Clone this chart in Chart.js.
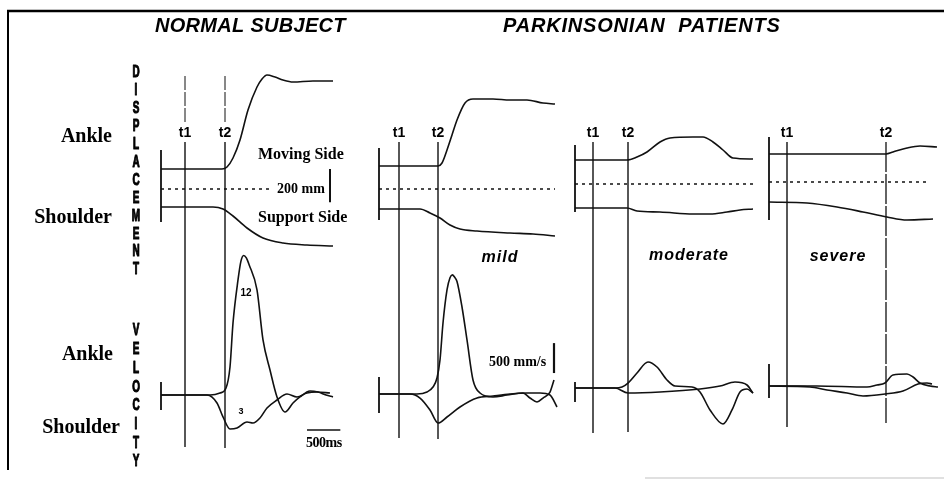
<!DOCTYPE html>
<html><head><meta charset="utf-8">
<script src="https://cdn.jsdelivr.net/npm/chart.js@4/dist/chart.umd.min.js"></script>
<style>html,body{margin:0;padding:0;background:#fff;}canvas{display:block;}</style>
</head><body>
<canvas id="c" width="944" height="479"></canvas>
<script>
// ---------- DATA (time in ms from trace start, displacement in mm, velocity in mm/s) ----------
const panels = ["normal", "mild", "moderate", "severe"];
const severityLabels = ["", "mild", "moderate", "severe"];
const markerT1 = [360, 300, 270, 270];
const markerT2 = [960, 885, 795, 1755];

// Normal subject
const nAnkDispT = [0,915,990,1080,1185,1305,1440,1515,1590,1710,1830,1980,2280,2580];
const nAnkDisp  = [0,0,12,66,174,354,492,540,564,552,534,522,528,528];
const nShoDispT = [0,780,930,1080,1290,1530,1830,2190,2580];
const nShoDisp  = [0,0,-12,-54,-126,-186,-216,-228,-234];
const nAnkVelT  = [0,735,885,975,1035,1080,1155,1200,1240,1280,1320,1440,1530,1635,1740,1860,1980,2085,2235,2355,2475,2580];
const nAnkVel   = [0,0,33,117,468,1202,1921,2240,2330,2290,2180,1754,919,418,-33,-284,-134,-33,67,50,0,-33];
const nShoVelT  = [0,690,840,930,1035,1140,1290,1380,1485,1590,1740,1890,2040,2190,2340,2535];
const nShoVel   = [0,0,-134,-367,-568,-551,-451,-468,-384,-217,-84,17,-33,33,50,33];

// Mild
const mAnkDispT = [0,885,945,1020,1095,1170,1290,1410,1710,1965,2220,2460,2640];
const mAnkDisp  = [0,0,18,96,186,276,378,402,402,396,396,378,372];
const mShoDispT = [0,615,765,915,1065,1215,1470,1965,2310,2640];
const mShoDisp  = [0,0,-24,-54,-96,-120,-132,-144,-150,-162];
const mAnkVelT  = [0,570,720,810,870,915,960,1020,1065,1100,1135,1170,1245,1320,1410,1515,1710,1920,2160,2265,2370,2460,2565,2625];
const mAnkVel   = [0,0,33,117,267,568,1186,1737,1940,1990,1950,1880,1453,902,234,17,-50,-17,17,-67,-134,-67,33,234];
const mShoVelT  = [0,465,615,765,885,1020,1215,1470,1710,1965,2220,2415,2565,2670];
const mShoVel   = [0,0,-67,-267,-484,-384,-217,-67,-33,0,17,17,-17,-217];

// Moderate
const oAnkDispT = [0,780,930,1080,1275,1425,1770,1920,2070,2220,2370,2670];
const oAnkDisp  = [0,0,18,48,108,132,138,138,108,60,12,6];
const oShoDispT = [0,780,930,1275,1770,2025,2280,2475,2670];
const oShoDisp  = [0,0,-18,-24,-36,-36,-24,-12,-6];
const oAnkVelT  = [0,600,705,795,930,1095,1230,1380,1500,1755,1875,2025,2220,2355,2475,2580,2670];
const oAnkVel   = [0,0,17,83,251,434,351,134,33,17,-67,-367,-601,-367,-67,-17,-84];
const oShoVelT  = [0,600,795,1275,1875,2175,2400,2580,2670];
const oShoVel   = [0,0,-84,-67,-17,33,100,50,-84];

// Severe
const sAnkDispT = [0,720,1215,1755,1860,2070,2265,2520];
const sAnkDisp  = [0,0,0,0,12,36,48,42];
const sShoDispT = [0,570,1020,1410,1770,2070,2460];
const sShoDisp  = [0,-6,-30,-60,-90,-108,-102];
const sAnkVelT  = [0,720,1470,1620,1740,1860,2070,2160,2265,2415,2535];
const sAnkVel   = [0,0,-17,17,50,184,200,150,50,0,-17];
const sShoVelT  = [0,615,870,1170,1410,1740,2010,2235,2370,2445];
const sShoVel   = [0,-17,-67,-117,-167,-134,-84,33,50,33];

const scaleBarDispMM = 200;   // displacement calibration
const scaleBarVelMMS = 500;   // velocity calibration
const scaleBarTimeMS = 500;   // time calibration

// ---------- LAYOUT (figure geometry, not data) ----------
const MS_PER_PX = 15, MM_PER_PX = 6, MMS_PER_PX = 16.7;
const W = 944, H = 479;
const layout = [
  {x0:161, ankY:169, shoY:207, midY:189, velY:395, dispBar:[150,222], velBar:[382,410], dotEnd:1680, tBot:[447,448], upper:true},
  {x0:379, ankY:166, shoY:209, midY:189, velY:394, dispBar:[148,220], velBar:[377,413], dotEnd:2640, tBot:[438,439]},
  {x0:575, ankY:160, shoY:208, midY:184, velY:388, dispBar:[145,212], velBar:[382,402], dotEnd:2670, tBot:[433,432]},
  {x0:769, ankY:154, shoY:202, midY:182, velY:386, dispBar:[137,220], velBar:[364,398], dotEnd:2370, tBot:[427,423]}
];
const traces = [
  [nAnkDispT,nAnkDisp,nShoDispT,nShoDisp,nAnkVelT,nAnkVel,nShoVelT,nShoVel],
  [mAnkDispT,mAnkDisp,mShoDispT,mShoDisp,mAnkVelT,mAnkVel,mShoVelT,mShoVel],
  [oAnkDispT,oAnkDisp,oShoDispT,oShoDisp,oAnkVelT,oAnkVel,oShoVelT,oShoVel],
  [sAnkDispT,sAnkDisp,sShoDispT,sShoDisp,sAnkVelT,sAnkVel,sShoVelT,sShoVel]
];

const tx = (p, t) => layout[p].x0 * MS_PER_PX + t;
const dy = (baseY, mm) => baseY * MM_PER_PX - mm;        // displacement axis value
const vy = (baseY, v) => baseY * MMS_PER_PX - v;          // velocity axis value

const datasets = [];
function trace(p, T, V, base, axis, opts) {
  const f = axis === 'yd' ? dy : vy;
  datasets.push(Object.assign({
    data: T.map((t, i) => ({x: tx(p, t), y: f(base, V[i])})),
    yAxisID: axis, borderColor: '#111', borderWidth: 1.6, pointRadius: 0,
    cubicInterpolationMode: 'monotone', fill: false
  }, opts || {}));
}
function seg(x1, y1, x2, y2, axis, opts) {
  datasets.push(Object.assign({
    data: [{x: x1, y: y1}, {x: x2, y: y2}], yAxisID: axis,
    borderColor: '#111', borderWidth: 1.5, pointRadius: 0, tension: 0, fill: false
  }, opts || {}));
}

panels.forEach((name, p) => {
  const L = layout[p], tr = traces[p];
  trace(p, tr[0], tr[1], L.ankY, 'yd');
  trace(p, tr[2], tr[3], L.shoY, 'yd');
  trace(p, tr[4], tr[5], L.velY, 'yv');
  trace(p, tr[6], tr[7], L.velY, 'yv');
  // dotted midline
  seg(tx(p, 0), dy(L.midY, 0), tx(p, L.dotEnd), dy(L.midY, 0), 'yd', {borderDash:[3,4], borderWidth:1.3});
  // start bars
  seg(tx(p, 0), L.dispBar[0]*MM_PER_PX, tx(p, 0), L.dispBar[1]*MM_PER_PX, 'yd', {borderWidth:1.8});
  seg(tx(p, 0), L.velBar[0]*MMS_PER_PX, tx(p, 0), L.velBar[1]*MMS_PER_PX, 'yv', {borderWidth:1.8});
  // t1, t2 markers
  seg(tx(p, markerT1[p]), 142*MM_PER_PX, tx(p, markerT1[p]), L.tBot[0]*MM_PER_PX, 'yd', {borderWidth:1.4});
  seg(tx(p, markerT2[p]), 142*MM_PER_PX, tx(p, markerT2[p]), L.tBot[1]*MM_PER_PX, 'yd',
      p === 3 ? {borderWidth:1.3, borderDash:[30,2]} : {borderWidth:1.4});
  if (L.upper) {
    seg(tx(p, markerT1[p]), 76*MM_PER_PX, tx(p, markerT1[p]), 122*MM_PER_PX, 'yd', {borderWidth:1, borderDash:[14,2]});
    seg(tx(p, markerT2[p]), 76*MM_PER_PX, tx(p, markerT2[p]), 122*MM_PER_PX, 'yd', {borderWidth:1, borderDash:[14,2]});
  }
});
// calibration bars
seg(tx(0, 2535), dy(layout[0].ankY, 0), tx(0, 2535), dy(layout[0].ankY, -scaleBarDispMM), 'yd', {borderWidth:2});
seg(tx(1, 2625), vy(layout[1].velY, 350), tx(1, 2625), vy(layout[1].velY, 350 + scaleBarVelMMS), 'yv', {borderWidth:2.2});
seg(tx(0, 2190), vy(layout[0].velY, -585), tx(0, 2190 + scaleBarTimeMS), vy(layout[0].velY, -585), 'yv', {borderWidth:1.6});

// ---------- TEXT & FRAME PLUGIN ----------
const deco = {
  id: 'deco',
  afterDatasetsDraw(chart) {
    const ctx = chart.ctx, xs = chart.scales.x;
    ctx.save();
    // frame
    ctx.strokeStyle = '#000';
    ctx.lineWidth = 2.5;
    ctx.beginPath(); ctx.moveTo(7, 11); ctx.lineTo(W, 11); ctx.stroke();
    ctx.lineWidth = 2;
    ctx.beginPath(); ctx.moveTo(8, 10); ctx.lineTo(8, 470); ctx.stroke();
    ctx.strokeStyle = '#d6d6d6'; ctx.lineWidth = 1.5;
    ctx.beginPath(); ctx.moveTo(645, 478); ctx.lineTo(W, 478); ctx.stroke();

    ctx.fillStyle = '#000';
    ctx.textBaseline = 'middle';
    const txt = (s, x, y, font, align, ls) => {
      ctx.font = font; ctx.textAlign = align || 'left';
      ctx.letterSpacing = ls || '0px';
      ctx.fillText(s, x, y);
    };
    const sansBI = s => `italic bold ${s}px "Liberation Sans", Arial, sans-serif`;
    const serifB = s => `bold ${s}px "Liberation Serif", "Times New Roman", serif`;
    const sansB = s => `bold ${s}px "Liberation Sans", Arial, sans-serif`;

    txt('NORMAL SUBJECT', 155, 26, sansBI(20), 'left', '0.3px');
    txt('PARKINSONIAN  PATIENTS', 503, 26, sansBI(20), 'left', '0.8px');

    txt('Ankle', 112, 137, serifB(20), 'right');
    txt('Shoulder', 112, 218, serifB(20), 'right');
    txt('Ankle', 113, 355, serifB(20), 'right');
    txt('Shoulder', 120, 428, serifB(20), 'right');

    txt('Moving Side', 258, 155, serifB(16));
    txt('Support Side', 258, 218, serifB(16));
    txt('200 mm', 277, 189, serifB(14));
    txt('500 mm/s', 489, 362, serifB(14));
    txt('500ms', 306, 443, serifB(14), 'left', '-0.5px');
    txt('12', 246, 293, sansB(10), 'center');
    txt('3', 241, 412, sansB(9), 'center');

    const sevX = [0, 500, 689, 838], sevY = [0, 258, 256, 257];
    for (let p = 1; p < 4; p++) txt(severityLabels[p], sevX[p], sevY[p], sansBI(16), 'center', '1px');

    // t1 / t2 labels placed at marker positions
    for (let p = 0; p < 4; p++) {
      txt('t1', xs.getPixelForValue(tx(p, markerT1[p])), 133, sansB(14), 'center');
      txt('t2', xs.getPixelForValue(tx(p, markerT2[p])), 133, sansB(14), 'center');
    }

    // vertical condensed heavy letters
    const vert = (word, x, y0, step) => {
      ctx.font = sansB(16); ctx.textAlign = 'center'; ctx.letterSpacing = '0px';
      ctx.strokeStyle = '#000'; ctx.lineWidth = 1.1; ctx.lineJoin = 'round';
      for (let i = 0; i < word.length; i++) {
        ctx.save();
        ctx.translate(x, y0 + i * step);
        ctx.scale(0.62, 1);
        ctx.fillText(word[i], 0, 0);
        ctx.strokeText(word[i], 0, 0);
        ctx.restore();
      }
    };
    vert('DISPLACEMENT', 136, 73, 17.9);
    vert('VELOCITY', 136, 331, 18.7);
    ctx.restore();
  }
};

new Chart(document.getElementById('c'), {
  type: 'line',
  data: { datasets },
  options: {
    responsive: false, animation: false, devicePixelRatio: 1,
    layout: { padding: 0 },
    plugins: { legend: { display: false }, tooltip: { enabled: false } },
    scales: {
      x: { type: 'linear', display: false, min: 0, max: W * MS_PER_PX },
      yd: { type: 'linear', display: false, reverse: true, min: 0, max: H * MM_PER_PX },
      yv: { type: 'linear', display: false, reverse: true, min: 0, max: H * MMS_PER_PX }
    }
  },
  plugins: [deco]
});
</script>
</body></html>
